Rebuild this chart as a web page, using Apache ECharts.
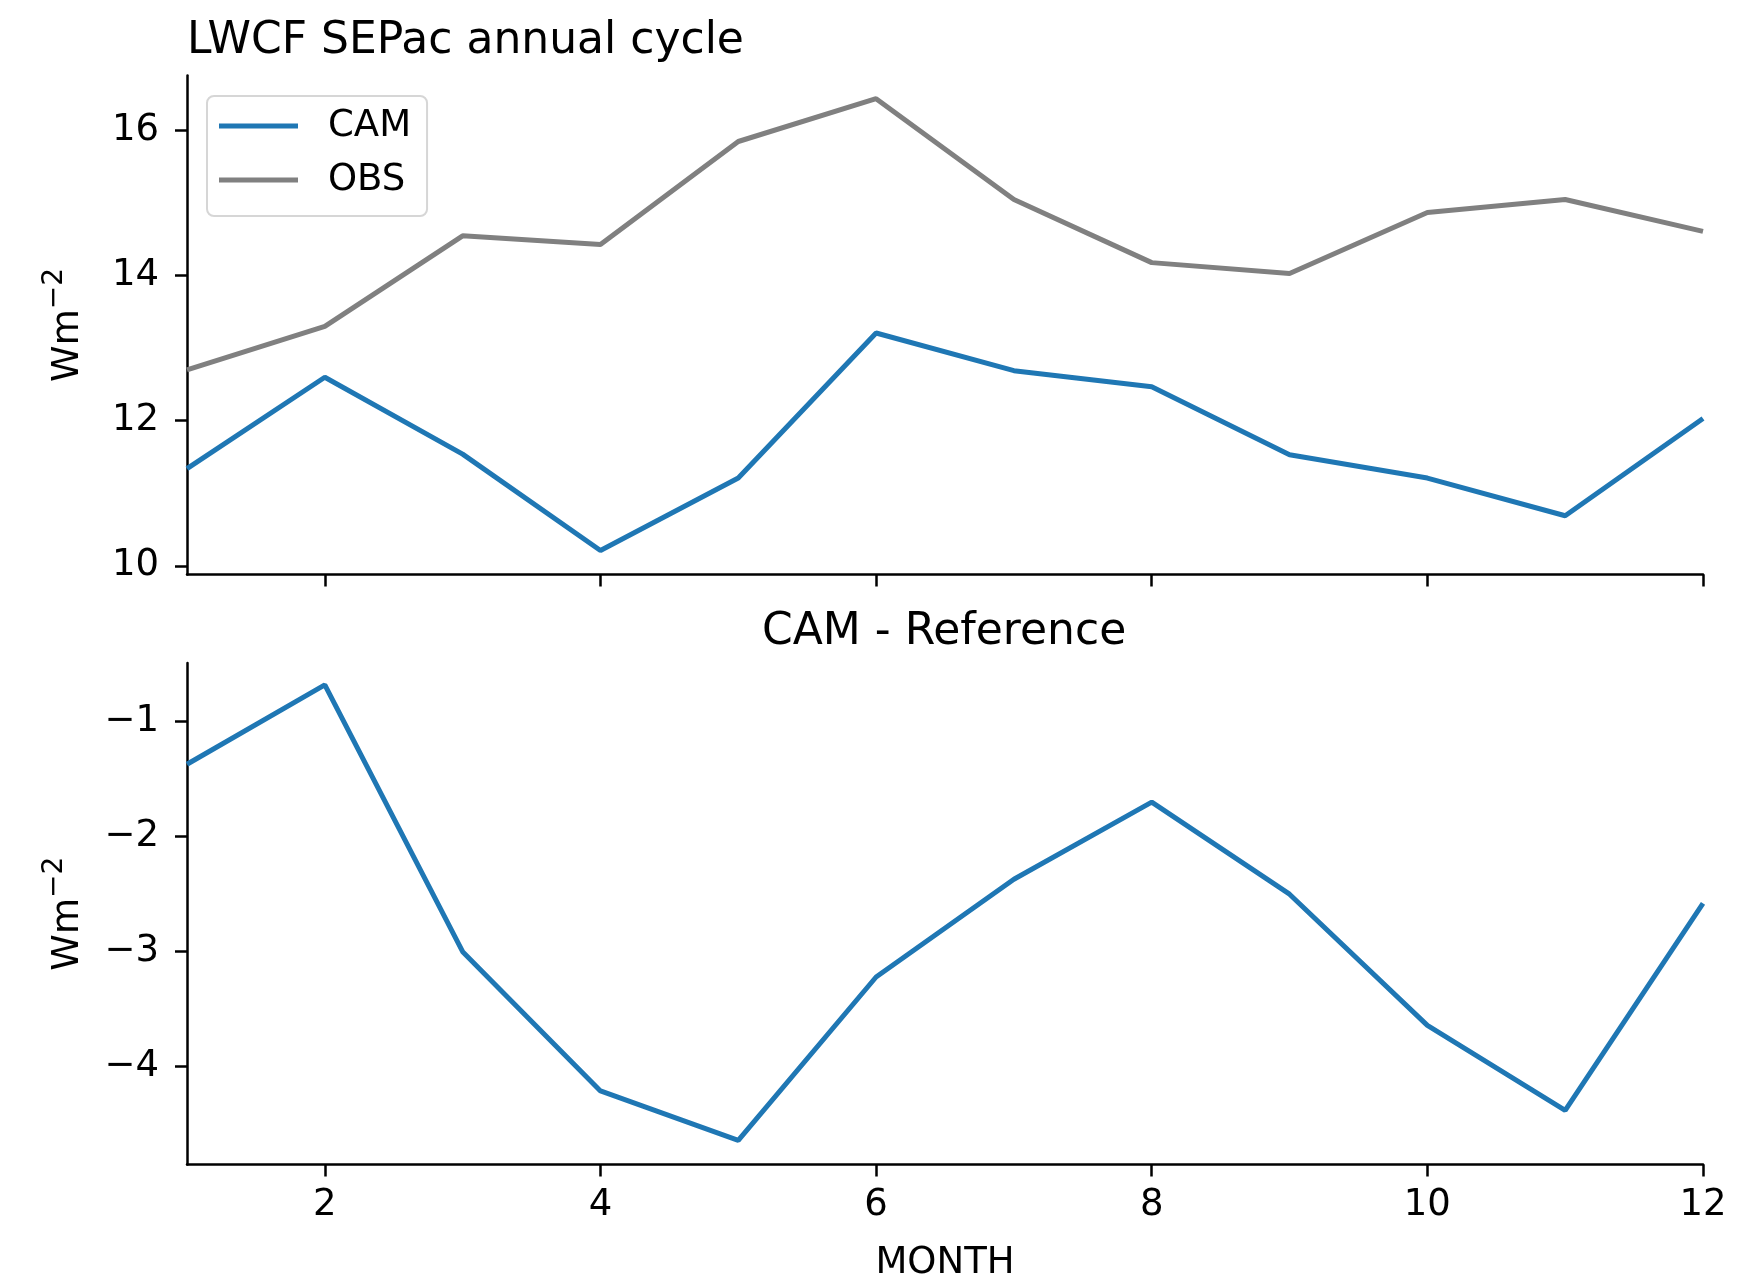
<!DOCTYPE html>
<html>
<head>
  <meta charset="UTF-8">
  <title>LWCF SEPac annual cycle</title>
  <script src="https://cdn.jsdelivr.net/npm/echarts@6/dist/echarts.min.js"></script>
</head>
<body style="margin:0;background:#fff">
  <div id="chart" style="width:1742px;height:1283px;"></div>
  <script>
    // data
    const months = [1, 2, 3, 4, 5, 6, 7, 8, 9, 10, 11, 12]
    const camValues = [11.34, 12.60, 11.54, 10.21, 11.21, 13.21, 12.69, 12.47, 11.53, 11.21, 10.69, 12.03]
    const obsValues = [12.70, 13.30, 14.55, 14.43, 15.85, 16.44, 15.05, 14.18, 14.03, 14.87, 15.05, 14.61]
    const diffValues = [-1.37, -0.68, -3.00, -4.21, -4.64, -3.22, -2.37, -1.70, -2.50, -3.64, -4.38, -2.58]
    const monthTicks = [2, 4, 6, 8, 10, 12]
    const topTicks = [10, 12, 14, 16]
    const bottomTicks = [-4, -3, -2, -1]

    const FONT = 'DejaVu Sans'
    const pairs = vals => months.map((m, i) => [m, vals[i]])
    const minus = v => (v < 0 ? '\u2212' + Math.abs(v) : String(v))

    const chart = echarts.init(document.getElementById('chart'))

    const spine = { show: true, onZero: false, lineStyle: { color: '#000', width: 2.5 } }
    const tick = { show: true, length: 12, lineStyle: { color: '#000', width: 2.5 } }
    // Wm^-2 with a raised exponent
    const unitName = '{a|Wm}{b|\u22122}'
    const unitRich = {
      a: { fontFamily: FONT, fontSize: 37, color: '#000', lineHeight: 54 },
      b: { fontFamily: FONT, fontSize: 28, color: '#000', lineHeight: 28, verticalAlign: 'top' }
    }

    const option = {
      animation: false,
      backgroundColor: '#fff',
      title: [
        {
          text: 'LWCF SEPac annual cycle',
          left: 187, top: 20, padding: 0,
          textStyle: { fontFamily: FONT, fontSize: 44, fontWeight: 'normal', color: '#000', lineHeight: 44 }
        },
        {
          text: 'CAM - Reference',
          left: 762, top: 611, padding: 0,
          textStyle: { fontFamily: FONT, fontSize: 44, fontWeight: 'normal', color: '#000', lineHeight: 44 }
        }
      ],
      legend: {
        data: ['CAM', 'OBS'],
        orient: 'vertical',
        left: 207, top: 96,
        padding: [10, 16, 16, 12],
        icon: 'rect',
        itemWidth: 79, itemHeight: 5, itemGap: 14,
        backgroundColor: '#fff',
        borderColor: '#d6d6d6', borderWidth: 2, borderRadius: 7,
        textStyle: { fontFamily: FONT, fontSize: 37, color: '#000', lineHeight: 40, padding: [0, 0, 0, 25] }
      },
      grid: [
        { left: 187, right: 39, top: 75.5, height: 499 },
        { left: 187, right: 39, top: 663, height: 501.5 }
      ],
      xAxis: [
        {
          type: 'value', gridIndex: 0, min: 1, max: 12,
          axisLine: spine,
          axisTick: Object.assign({ customValues: monthTicks }, tick),
          axisLabel: { show: false },
          splitLine: { show: false }
        },
        {
          type: 'value', gridIndex: 1, min: 1, max: 12,
          name: 'MONTH', nameLocation: 'middle', nameGap: 80,
          nameTextStyle: { fontFamily: FONT, fontSize: 37, color: '#000' },
          axisLine: spine,
          axisTick: Object.assign({ customValues: monthTicks }, tick),
          axisLabel: { customValues: monthTicks, margin: 22, fontFamily: FONT, fontSize: 37, color: '#000' },
          splitLine: { show: false }
        }
      ],
      yAxis: [
        {
          type: 'value', gridIndex: 0, min: 9.88, max: 16.76,
          name: unitName, nameLocation: 'middle', nameGap: 92, nameRotate: 90,
          nameTextStyle: { rich: unitRich },
          axisLine: spine,
          axisTick: Object.assign({ customValues: topTicks }, tick),
          axisLabel: { customValues: topTicks, margin: 28, fontFamily: FONT, fontSize: 37, color: '#000', formatter: minus },
          splitLine: { show: false }
        },
        {
          type: 'value', gridIndex: 1, min: -4.85, max: -0.49,
          name: unitName, nameLocation: 'middle', nameGap: 92, nameRotate: 90,
          nameTextStyle: { rich: unitRich },
          axisLine: spine,
          axisTick: Object.assign({ customValues: bottomTicks }, tick),
          axisLabel: { customValues: bottomTicks, margin: 28, fontFamily: FONT, fontSize: 37, color: '#000', formatter: minus },
          splitLine: { show: false }
        }
      ],
      series: [
        {
          name: 'CAM', type: 'line', xAxisIndex: 0, yAxisIndex: 0,
          data: pairs(camValues), symbol: 'none',
          itemStyle: { color: '#1f77b4' },
          lineStyle: { color: '#1f77b4', width: 5 }
        },
        {
          name: 'OBS', type: 'line', xAxisIndex: 0, yAxisIndex: 0,
          data: pairs(obsValues), symbol: 'none',
          itemStyle: { color: '#808080' },
          lineStyle: { color: '#808080', width: 5 }
        },
        {
          name: 'CAM - Reference', type: 'line', xAxisIndex: 1, yAxisIndex: 1,
          data: pairs(diffValues), symbol: 'none',
          itemStyle: { color: '#1f77b4' },
          lineStyle: { color: '#1f77b4', width: 5 }
        }
      ]
    }

    chart.setOption(option)
  </script>
</body>
</html>
